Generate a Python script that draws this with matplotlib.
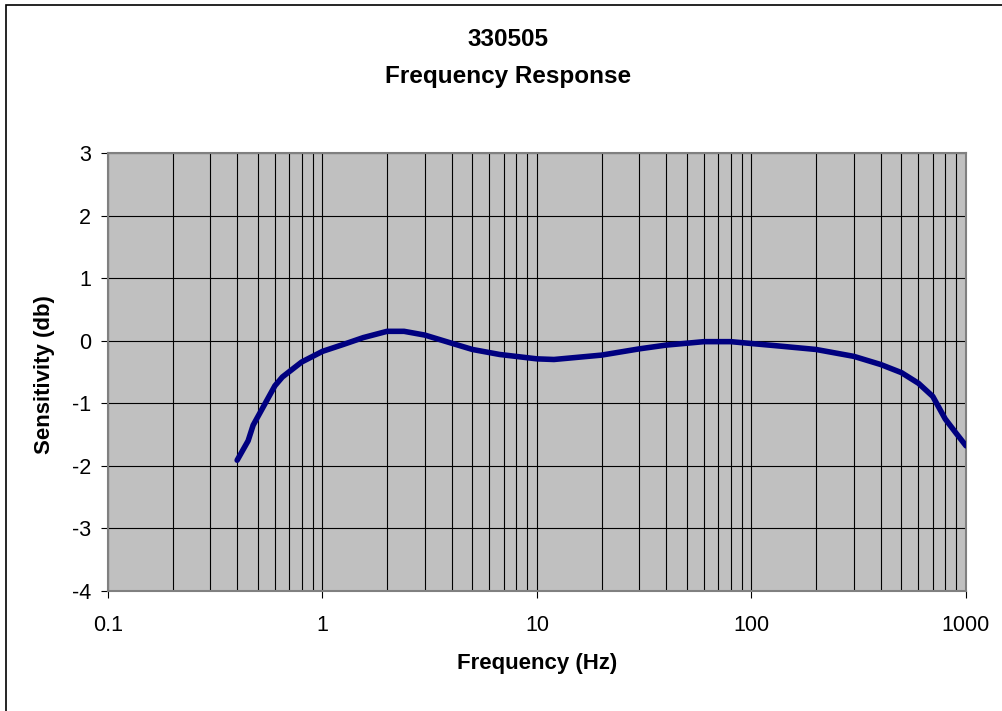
import matplotlib
matplotlib.use("Agg")
import matplotlib.pyplot as plt
from matplotlib.patches import Rectangle
from matplotlib.ticker import LogLocator, FixedLocator, NullFormatter

# Frequency response data
freq_hz = [0.4, 0.45, 0.475, 0.6, 0.65, 0.8, 1.0, 1.25, 1.55, 2.0, 2.4, 3.0,
           4.0, 5.0, 6.7, 10.0, 12.0, 20.0, 30.0, 40.0, 50.0, 60.0, 80.0,
           130.0, 200.0, 300.0, 400.0, 500.0, 600.0, 700.0, 800.0, 900.0, 1000.0]
sensitivity_db = [-1.91, -1.60, -1.35, -0.72, -0.58, -0.34, -0.17, -0.06, 0.05,
                  0.15, 0.15, 0.09, -0.04, -0.14, -0.22, -0.29, -0.30, -0.23,
                  -0.13, -0.07, -0.04, -0.015, -0.015, -0.08, -0.14, -0.25,
                  -0.38, -0.51, -0.68, -0.89, -1.25, -1.48, -1.68]

x_ticks = [0.1, 1, 10, 100, 1000]
x_tick_labels = ["0.1", "1", "10", "100", "1000"]
y_ticks = [-4, -3, -2, -1, 0, 1, 2, 3]

plt.rcParams["font.family"] = ["Liberation Sans", "DejaVu Sans"]

W, H = 1003, 711
fig = plt.figure(figsize=(W / 100, H / 100), dpi=100)
fig.patch.set_facecolor("white")

# Chart area border (right/bottom edges fall off the image)
fig.patches.append(Rectangle((6 / W, 0.0 - 0.01), 1.1, (H - 5) / H + 0.01,
                             transform=fig.transFigure, fill=False,
                             edgecolor="black", linewidth=1.2))

left, right, top, bottom = 108, 966, 153, 591
ax = fig.add_axes([left / W, 1 - bottom / H, (right - left) / W, (bottom - top) / H])
ax.set_facecolor("#C0C0C0")

ax.set_xscale("log")
ax.set_xlim(0.1, 1000)
ax.set_ylim(-4, 3)

ax.xaxis.set_major_locator(FixedLocator(x_ticks))
ax.set_xticklabels(x_tick_labels)
ax.xaxis.set_minor_locator(LogLocator(base=10, subs=range(2, 10)))
ax.xaxis.set_minor_formatter(NullFormatter())
ax.set_yticks(y_ticks)
ax.set_yticklabels([str(v) for v in y_ticks])

ax.grid(True, which="both", axis="x", color="black", linewidth=0.8)
ax.grid(True, which="major", axis="y", color="black", linewidth=0.8)
ax.set_axisbelow(True)

ax.tick_params(axis="both", which="major", direction="out", length=5,
               width=0.8, color="black", labelsize=15.5, pad=7)
ax.tick_params(axis="x", which="minor", length=0)
ax.tick_params(axis="x", which="major", pad=12)

for s in ax.spines.values():
    s.set_color("#808080")
    s.set_linewidth(1.5)

ax.plot(freq_hz, sensitivity_db, color="#000080", linewidth=4,
        solid_capstyle="round", solid_joinstyle="round", zorder=3)

# Titles and axis labels
fig.text(508 / W, 1 - 40 / H, "330505", ha="center", va="center",
         fontsize=17.5, fontweight="bold")
fig.text(508 / W, 1 - 76 / H, "Frequency Response", ha="center", va="center",
         fontsize=17.5, fontweight="bold")
fig.text(537 / W, 1 - 664 / H, "Frequency (Hz)", ha="center", va="center",
         fontsize=16, fontweight="bold")
fig.text(45 / W, 1 - 375 / H, "Sensitivity (db)", ha="center", va="center",
         rotation=90, fontsize=16, fontweight="bold")

fig.savefig("out.png", dpi=100)
